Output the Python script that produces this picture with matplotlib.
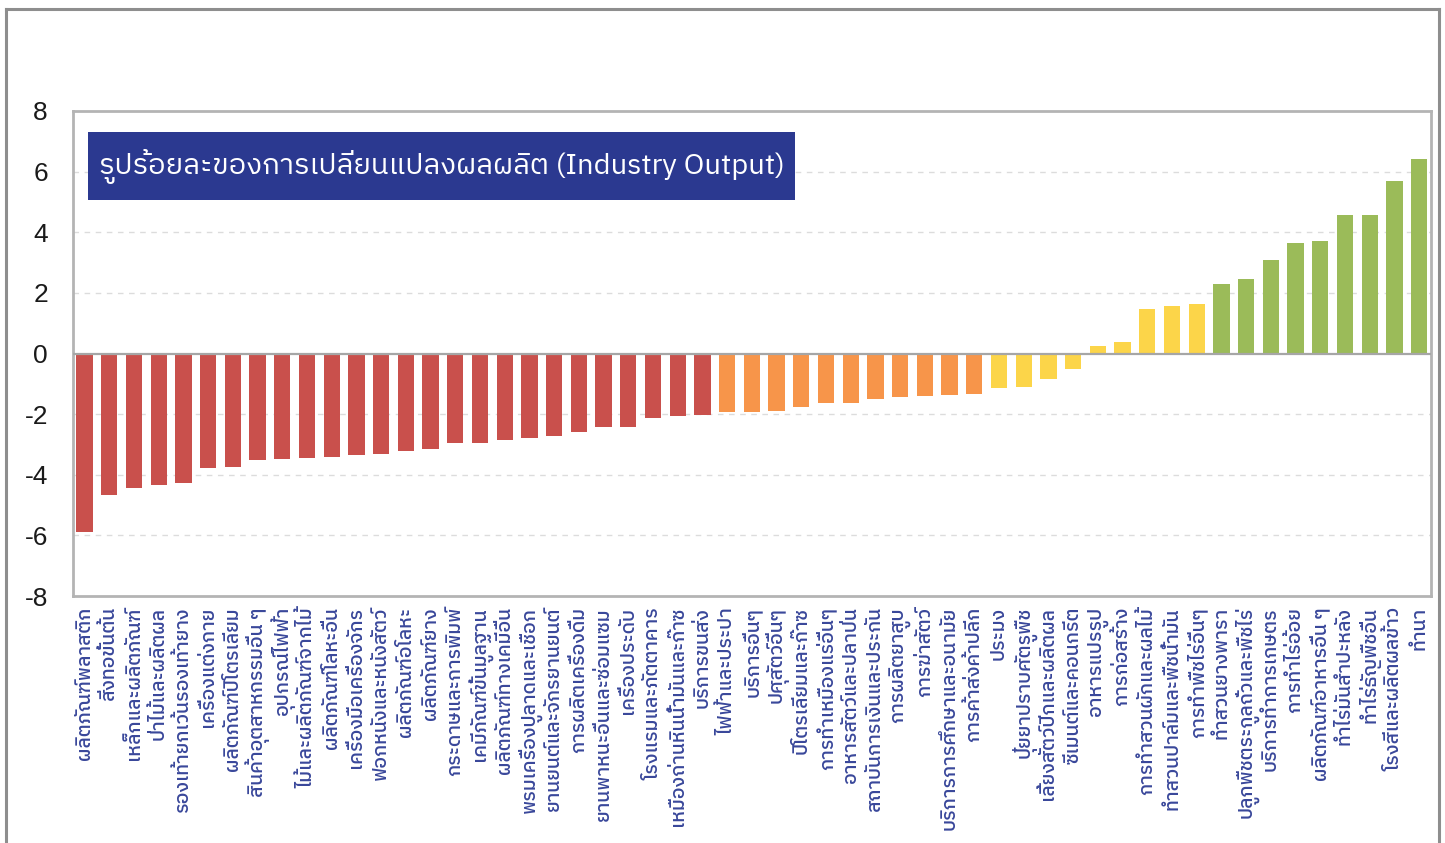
import matplotlib
matplotlib.use('Agg')
import matplotlib.pyplot as plt
from matplotlib import font_manager
from matplotlib.ft2font import FT2Font
from matplotlib.patches import Rectangle
from matplotlib.lines import Line2D


def thai_family():
    # หาฟอนต์ที่มีอักษรไทย (ก = U+0E01)
    found = []
    for f in font_manager.fontManager.ttflist:
        try:
            if 0x0E01 in FT2Font(f.fname).get_charmap():
                found.append(f.name)
        except Exception:
            pass
    for name in found:
        if 'Sans' in name:
            return name
    return found[0] if found else 'DejaVu Sans'


THAI = thai_family()
plt.rcParams['font.family'] = [THAI, 'DejaVu Sans']
plt.rcParams['axes.unicode_minus'] = False

# สาขาการผลิต เรียงจากติดลบมากสุดไปบวกมากสุด
industries = [
    'ผลิตภัณฑ์พลาสติก', 'สิ่งทอขั้นต้น', 'เหล็กและผลิตภัณฑ์', 'ป่าไม้และผลิตผล',
    'รองเท้ายกเว้นรองเท้ายาง', 'เครื่องแต่งกาย', 'ผลิตภัณฑ์ปิโตรเลียม',
    'สินค้าอุตสาหกรรมอื่น ๆ', 'อุปกรณ์ไฟฟ้า', 'ไม้และผลิตภัณฑ์จากไม้',
    'ผลิตภัณฑ์โลหะอื่น', 'เครื่องมือเครื่องจักร', 'ฟอกหนังและหนังสัตว์',
    'ผลิตภัณฑ์อโลหะ', 'ผลิตภัณฑ์ยาง', 'กระดาษและการพิมพ์', 'เคมีภัณฑ์ขั้นมูลฐาน',
    'ผลิตภัณฑ์ทางเคมีอื่น', 'พรมเครื่องปูลาดและเชือก', 'ยานยนต์และจักรยานยนต์',
    'การผลิตเครื่องดื่ม', 'ยานพาหนะอื่นและซ่อมแซม', 'เครื่องประดับ',
    'โรงแรมและภัตตาคาร', 'เหมืองถ่านหินน้ำมันและก๊าซ', 'บริการขนส่ง',
    'ไฟฟ้าและประปา', 'บริการอื่นๆ', 'ปศุสัตว์อื่นๆ', 'ปิโตรเลียมและก๊าซ',
    'การทำเหมืองแร่อื่นๆ', 'อาหารสัตว์และปลาป่น', 'สถาบันการเงินและประกัน',
    'การผลิตยาสูบ', 'การฆ่าสัตว์', 'บริการการศึกษาและอนามัย', 'การค้าส่งค้าปลีก',
    'ประมง', 'ปุ๋ยยาปราบศัตรูพืช', 'เลี้ยงสัตว์ปีกและผลิตผล', 'ซีเมนต์และคอนกรีต',
    'อาหารแปรรูป', 'การก่อสร้าง', 'การทำสวนผักและผลไม้', 'ทำสวนปาล์มและพืชน้ำมัน',
    'การทำพืชไร่อื่นๆ', 'ทำสวนยางพารา', 'ปลูกพืชตระกูลถั่วและพืชไร่',
    'บริการทำการเกษตร', 'การทำไร่อ้อย', 'ผลิตภัณฑ์อาหารอื่น ๆ', 'ทำไร่มันสำปะหลัง',
    'ทำไร่ธัญพืชอื่น', 'โรงสีและผลิตผลข้าว', 'ทำนา',
]

# ร้อยละการเปลี่ยนแปลงผลผลิต
pct_change = [
    -5.88, -4.68, -4.44, -4.35, -4.28, -3.79, -3.76, -3.51, -3.48, -3.44,
    -3.40, -3.34, -3.30, -3.23, -3.16, -2.96, -2.95, -2.85, -2.79, -2.72,
    -2.60, -2.43, -2.43, -2.12, -2.05, -2.03,
    -1.92, -1.92, -1.89, -1.76, -1.63, -1.63, -1.49, -1.43, -1.41, -1.37, -1.32,
    -1.13, -1.10, -0.85, -0.51, 0.24, 0.38, 1.48, 1.57, 1.63,
    2.29, 2.46, 3.10, 3.65, 3.70, 4.57, 4.57, 5.69, 6.40,
]

# กลุ่มสี: แดง / ส้ม / เหลือง / เขียว
group_sizes = [26, 11, 9, 9]
group_colors = ['#C9504C', '#F7954A', '#FCD549', '#9BBB59']

colors = []
for n, c in zip(group_sizes, group_colors):
    colors += [c] * n

W, H = 1445, 843
fig = plt.figure(figsize=(W / 100, H / 100), dpi=100)
fig.patch.set_facecolor('white')

# กรอบนอก
frame_kw = dict(color='#8E8E8E', linewidth=2.2, transform=fig.transFigure)
x0, x1, yt = 5.5 / W, 1438.5 / W, 1 - 8.5 / H
fig.lines += [
    Line2D([x0, x0], [0, yt], **frame_kw),
    Line2D([x0, x1], [yt, yt], **frame_kw),
    Line2D([x1, x1], [0, yt], **frame_kw),
]

ax = fig.add_axes([73 / W, 1 - 596 / H, (1431 - 73) / W, (596 - 111) / H])

x = list(range(len(pct_change)))
ax.bar(x, pct_change, width=0.66, color=colors, zorder=3)

ax.set_xlim(-0.47, len(x) - 1 + 0.48)
ax.set_ylim(-8, 8)
ax.set_yticks(range(-8, 9, 2))
ax.tick_params(axis='y', length=0, pad=18, labelsize=19, labelcolor='#1A1A1A')
for lab in ax.get_yticklabels():
    lab.set_family(['Liberation Sans', 'DejaVu Sans'])

ax.set_xticks(x)
ax.set_xticklabels(industries, rotation=90, fontsize=14, color='#39479A',
                   va='top', ha='center', fontweight='medium')
ax.tick_params(axis='x', length=0, pad=8)

# เส้นกริดประ
for v in [-6, -4, -2, 2, 4, 6]:
    ax.axhline(v, color='#DCDCDC', linewidth=1.0, linestyle=(0, (4, 4)), zorder=1)
ax.axhline(0, color='#A6A6A6', linewidth=1.6, zorder=4)

for s in ax.spines.values():
    s.set_color('#B4B4B4')
    s.set_linewidth(2.0)

# กล่องหัวเรื่อง
bx0, by0 = 88 / W, 1 - 200 / H
fig.patches.append(Rectangle((bx0, by0), (795 - 88) / W, (200 - 132) / H,
                             transform=fig.transFigure, facecolor='#2B3990',
                             edgecolor='none', zorder=5))
fig.text((88 + 795) / 2 / W, 1 - 166 / H,
         'รูปร้อยละของการเปลี่ยนแปลงผลผลิต (Industry Output)',
         color='white', fontsize=21, style='italic', ha='center', va='center',
         zorder=6)

fig.savefig('out.png', dpi=100, facecolor='white')
